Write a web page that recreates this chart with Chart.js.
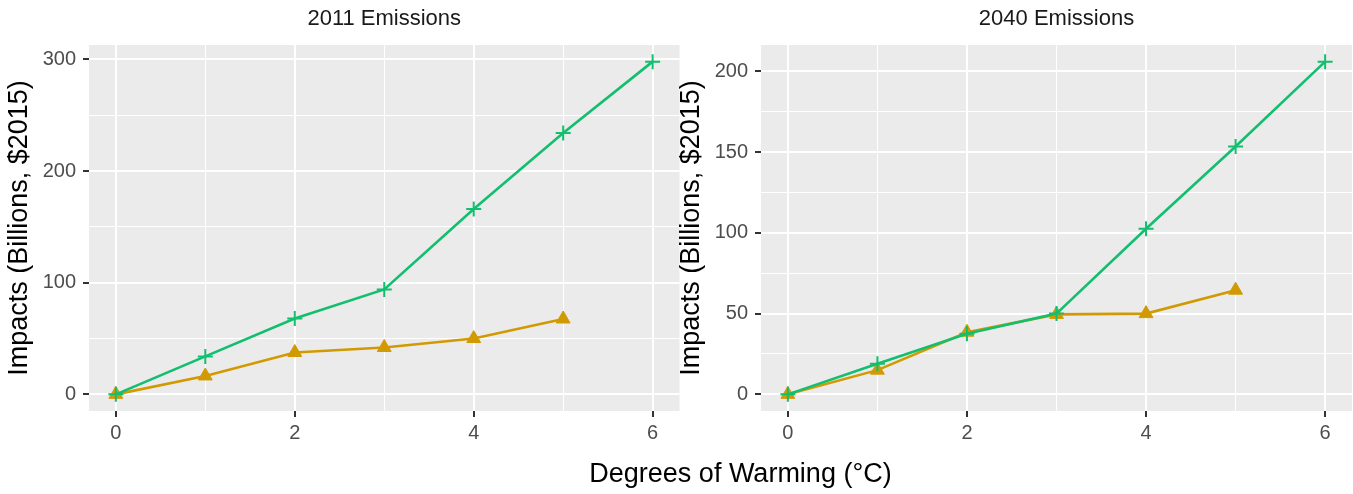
<!DOCTYPE html>
<html>
<head>
<meta charset="utf-8">
<script src="https://cdn.jsdelivr.net/npm/chart.js@4.4.0/dist/chart.umd.min.js"></script>
<style>
  body { margin: 0; background: #fff; width: 1353px; height: 494px; position: relative; overflow: hidden; font-family: "Liberation Sans", Arial, sans-serif; }
  #leftBox { position: absolute; left: 0; top: 0; width: 700px; height: 494px; }
  #rightBox { position: absolute; left: 672px; top: 0; width: 700px; height: 494px; }
  #xTitle { position: absolute; left: 440px; width: 601px; top: 457px; text-align: center; font-size: 27px; line-height: 32px; color: #000; }
</style>
</head>
<body>
<div id="leftBox"><canvas id="left"></canvas></div>
<div id="rightBox"><canvas id="right"></canvas></div>
<div id="xTitle">Degrees of Warming (°C)</div>
<script>
// data
const degrees = [0, 1, 2, 3, 4, 5, 6];
const plus2011 = [0, 34, 68, 94, 166, 234, 298];
const tri2011 = [0, 16.5, 37.5, 42, 50, 67.5];
const plus2040 = [0, 19, 37.5, 50, 102.5, 153.5, 206];
const tri2040 = [0, 15, 38.5, 49.5, 50, 64.5];

const xMajor = [0, 2, 4, 6];
const xMinor = [1, 3, 5];
const yMajor2011 = [0, 100, 200, 300];
const yMinor2011 = [50, 150, 250];
const yMajor2040 = [0, 50, 100, 150, 200];
const yMinor2040 = [25, 75, 125, 175];

const GREEN = "#12BF6E";
const GOLD = "#D29A02";

Chart.defaults.font.family = '"Liberation Sans", Arial, sans-serif';

const panelBg = {
  id: "panelBg",
  beforeDraw(chart) {
    const a = chart.chartArea;
    const ctx = chart.ctx;
    ctx.save();
    ctx.fillStyle = "#EBEBEB";
    ctx.fillRect(a.left, a.top, a.right - a.left, a.bottom - a.top);
    ctx.restore();
  },
};

const panelTitle = {
  id: "panelTitle",
  afterDraw(chart, args, opts) {
    const a = chart.chartArea;
    const ctx = chart.ctx;
    ctx.save();
    ctx.font = '22px "Liberation Sans", Arial, sans-serif';
    ctx.fillStyle = "#1a1a1a";
    ctx.textAlign = "center";
    ctx.textBaseline = "middle";
    ctx.fillText(opts.text, (a.left + a.right) / 2, a.top - 26);
    ctx.restore();
  },
};

function points(vals) {
  return vals.map((v, i) => ({ x: degrees[i], y: v }));
}

// areaRight: where the grey panel should end, in canvas pixels
function makePanel(id, title, plusVals, triVals, yMajor, yMinor, areaRight) {
  const all = plusVals.concat(triVals);
  const lo = Math.min(...all);
  const hi = Math.max(...all);
  const pad = (hi - lo) * 0.05;
  const yTicks = yMajor.concat(yMinor).sort((a, b) => a - b);
  const xTicks = xMajor.concat(xMinor).sort((a, b) => a - b);

  const chart = new Chart(document.getElementById(id), {
    type: "line",
    data: {
      datasets: [
        {
          data: points(plusVals),
          borderColor: GREEN,
          backgroundColor: GREEN,
          borderWidth: 2.6,
          pointStyle: "cross",
          pointRadius: 7.5,
          pointBorderWidth: 2,
          tension: 0,
        },
        {
          data: points(triVals),
          borderColor: GOLD,
          backgroundColor: GOLD,
          borderWidth: 2.6,
          pointStyle: "triangle",
          pointRadius: 8,
          pointBorderWidth: 1,
          tension: 0,
        },
      ],
    },
    options: {
      responsive: true,
      maintainAspectRatio: false,
      animation: false,
      layout: { padding: { top: 45, right: 20, left: 0, bottom: 0 } },
      plugins: {
        legend: { display: false },
        tooltip: { enabled: false },
        panelTitle: { text: title },
      },
      scales: {
        x: {
          type: "linear",
          min: -0.3,
          max: 6.3,
          afterBuildTicks: (s) => { s.ticks = xTicks.map((v) => ({ value: v })); },
          afterFit: (s) => { s.height = 83; },
          border: { display: false },
          grid: {
            color: "#ffffff",
            lineWidth: (c) => (xMajor.includes(c.tick.value) ? 2 : 1),
            tickLength: 6,
            tickWidth: 2,
            tickColor: (c) => (xMajor.includes(c.tick.value) ? "#333333" : "rgba(0,0,0,0)"),
          },
          ticks: {
            color: "#4D4D4D",
            font: { size: 20 },
            padding: 4,
            maxRotation: 0,
            autoSkip: false,
            callback: (v) => (xMajor.includes(v) ? String(v) : ""),
          },
        },
        y: {
          type: "linear",
          min: lo - pad,
          max: hi + pad,
          afterBuildTicks: (s) => { s.ticks = yTicks.map((v) => ({ value: v })); },
          afterFit: (s) => { s.width = 89; s.paddingTop = 0; s.paddingBottom = 0; },
          border: { display: false },
          title: {
            display: true,
            text: "Impacts (Billions, $2015)",
            color: "#000000",
            font: { size: 27 },
            padding: { top: 3, bottom: 0 },
          },
          grid: {
            color: "#ffffff",
            lineWidth: (c) => (yMajor.includes(c.tick.value) ? 2 : 1),
            tickLength: 6,
            tickWidth: 2,
            tickColor: (c) => (yMajor.includes(c.tick.value) ? "#333333" : "rgba(0,0,0,0)"),
          },
          ticks: {
            color: "#4D4D4D",
            font: { size: 20 },
            padding: 7,
            autoSkip: false,
            callback: (v) => (yMajor.includes(v) ? String(v) : ""),
          },
        },
      },
    },
    plugins: [panelBg, panelTitle],
  });

  // nudge the right padding so the panel ends where it should
  for (let i = 0; i < 3; i++) {
    const diff = chart.chartArea.right - areaRight;
    if (Math.abs(diff) < 0.2) break;
    chart.options.layout.padding.right += diff;
    chart.update();
  }
  return chart;
}

makePanel("left", "2011 Emissions", plus2011, tri2011, yMajor2011, yMinor2011, 679.5);
makePanel("right", "2040 Emissions", plus2040, tri2040, yMajor2040, yMinor2040, 680);
</script>
</body>
</html>
